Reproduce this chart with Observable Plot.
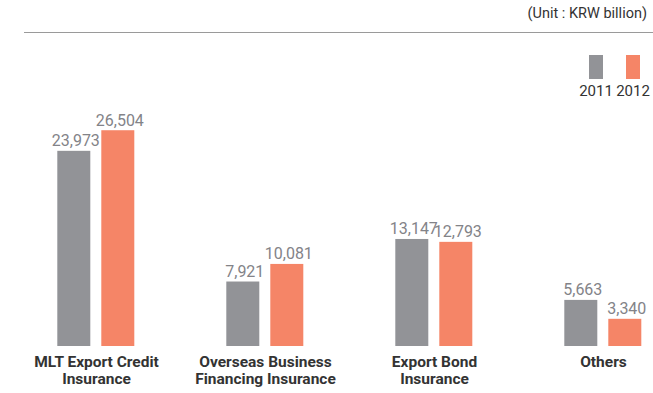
<!DOCTYPE html>
<html>
<head>
<meta charset="utf-8">
<script src="https://cdn.jsdelivr.net/npm/d3@7"></script>
<script src="https://cdn.jsdelivr.net/npm/@observablehq/plot@0.6"></script>
<style>
  html, body { margin: 0; padding: 0; background: #fff; }
  #wrap { position: relative; width: 653px; height: 393px; font-family: Roboto, "DejaVu Sans", sans-serif; }
  #unit { position: absolute; right: 6px; top: 5px; font-size: 14.5px; color: #333; }
  #rule { position: absolute; left: 24px; top: 32px; width: 629px; height: 1px; background: #9a9a9a; }
  .lg-sw { position: absolute; top: 55px; width: 14px; height: 24px; }
  .lg-tx { position: absolute; top: 82px; font-size: 15px; color: #333; transform: translateX(-50%); }
  #chart { position: absolute; left: 0; top: 0; }
</style>
</head>
<body>
<div id="wrap">
  <div id="chart"></div>
  <div id="unit">(Unit : KRW billion)</div>
  <div id="rule"></div>
  <div id="legend"></div>
</div>
<script>
const categories = ["MLT Export Credit Insurance", "Overseas Business Financing Insurance", "Export Bond Insurance", "Others"];
const categoryLabels = ["MLT Export Credit\nInsurance", "Overseas Business\nFinancing Insurance", "Export Bond\nInsurance", "Others"];
const years = ["2011", "2012"];
const values2011 = [23973, 7921, 13147, 5663];
const values2012 = [26504, 10081, 12793, 3340];
const colors = ["#929397", "#f58567"];

const series = [values2011, values2012];
const data = categories.flatMap((c, i) => years.map((y, j) => ({cat: c, year: y, value: series[j][i]})));
const labelOf = new Map(categories.map((c, i) => [c, categoryLabels[i]]));

const chart = Plot.plot({
  width: 653,
  height: 393,
  marginLeft: 56.7,
  marginRight: 11.4,
  marginTop: 0,
  marginBottom: 47,
  style: {fontFamily: "Roboto, 'DejaVu Sans', sans-serif", background: "transparent", overflow: "visible"},
  fx: {domain: categories, paddingInner: 0.541, paddingOuter: 0, axis: null, label: null},
  x: {domain: years, paddingInner: 0.248, paddingOuter: 0, axis: null},
  y: {domain: [0, 42500], axis: null},
  color: {domain: years, range: colors},
  marks: [
    Plot.barY(data, {fx: "cat", x: "year", y: "value", fill: "year"}),
    Plot.text(data, {fx: "cat", x: "year", y: "value", text: d => d3.format(",")(d.value),
      lineAnchor: "bottom", dy: -5, dx: 1.5, fill: "#838388", fontSize: 16, fontWeight: "normal", letterSpacing: "0.4px"}),
    Plot.text(categories, {fx: d => d, frameAnchor: "bottom", text: d => labelOf.get(d),
      lineAnchor: "top", dy: 8, lineHeight: 1.12, fill: "#333", fontSize: 15.5, fontWeight: "bold"})
  ]
});
document.getElementById("chart").appendChild(chart);

const legend = document.getElementById("legend");
const swX = [589, 626];
years.forEach((y, j) => {
  const sw = document.createElement("div");
  sw.className = "lg-sw";
  sw.style.left = swX[j] + "px";
  sw.style.background = colors[j];
  legend.appendChild(sw);
  const tx = document.createElement("div");
  tx.className = "lg-tx";
  tx.style.left = (swX[j] + 7) + "px";
  tx.textContent = y;
  legend.appendChild(tx);
});
</script>
</body>
</html>
